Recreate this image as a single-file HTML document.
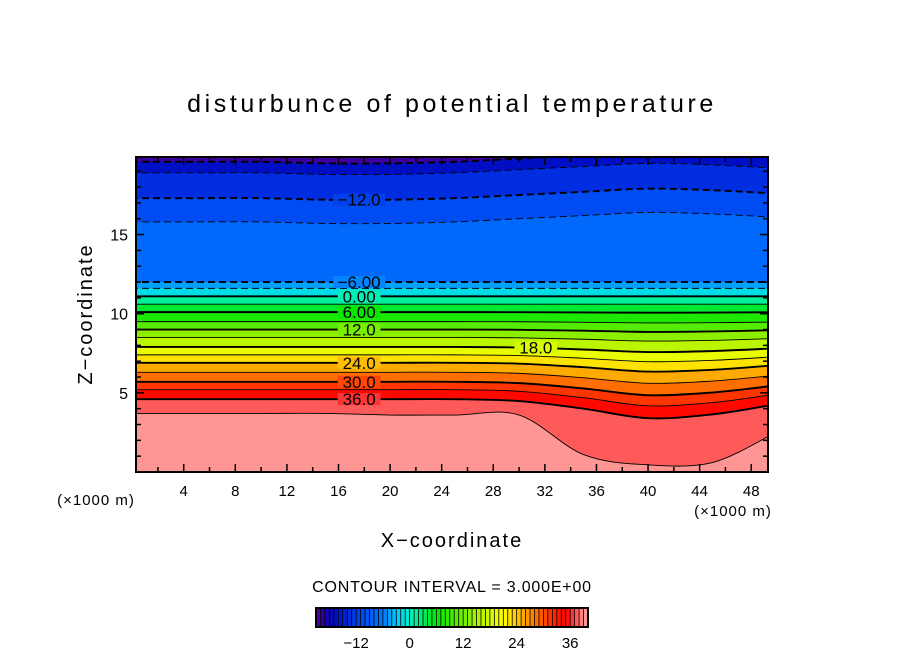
<!DOCTYPE html>
<html><head><meta charset="utf-8"><style>
html,body{margin:0;padding:0;background:#fff;}
svg text{font-family:"Liberation Sans",sans-serif;}
</style></head><body>
<svg id="chart" width="904" height="654" xmlns="http://www.w3.org/2000/svg">
<rect width="904" height="654" fill="#fff"/>
<text x="452" y="112" text-anchor="middle" font-size="25" letter-spacing="3.6">disturbunce of potential temperature</text>
<g id="plot"></g>
<text transform="translate(92,314) rotate(-90)" text-anchor="middle" font-size="20" letter-spacing="2">Z−coordinate</text>
<text x="452" y="547" text-anchor="middle" font-size="20" letter-spacing="2">X−coordinate</text>
<text x="96" y="505" text-anchor="middle" font-size="15" letter-spacing="1">(×1000 m)</text>
<text x="733" y="516" text-anchor="middle" font-size="15" letter-spacing="1">(×1000 m)</text>
<text x="452" y="592" text-anchor="middle" font-size="16" letter-spacing="0.8">CONTOUR INTERVAL = 3.000E+00</text>
<g id="cbar"></g>
</svg>
<script>
// ---- data ----
const xs = [0,5,10,15,20,25,30,35,40,45,49];
const levels = [-18,-15,-12,-9,-6,-3,0,3,6,9,12,15,18,21,24,27,30,33,36];
const baseZ = [19.6,18.9,17.3,15.8,12.0,11.6,11.1,10.6,10.1,9.5,9.0,8.5,7.9,7.4,6.9,6.3,5.7,5.2,4.6];
const lowDip = [0,0,0,0,0,0,0.1,0.5,1.0,0.8,0.3];
const upRise = [0,0,0,-0.1,-0.1,0,0.2,0.4,0.6,0.5,0.3];
const level39Z = [3.7,3.7,3.7,3.7,3.6,3.6,3.6,1.1,0.45,0.6,2.4];
const labelLevels = [-12,-6,0,6,12,24,30,36];
const labelTexts = ["−12.0","−6.00","0.00","6.00","12.0","24.0","30.0","36.0"];
const xTicks = [4,8,12,16,20,24,28,32,36,40,44,48];
const yTicks = [5,10,15];
const cbarTicks = [-12,0,12,24,36];
// ---- axes ----
const X0=136,X1=768,Y0=157,Y1=472;
const xMin=0.3,xMax=49.3,zMin=0,zMax=19.9;
const sx=v=>X0+(v-xMin)/(xMax-xMin)*(X1-X0);
const sy=v=>Y1-(v-zMin)/(zMax-zMin)*(Y1-Y0);
const stops=[[-21,[90,0,160]],[-19,[30,0,160]],[-17,[0,10,190]],[-14,[0,40,220]],[-10,[0,80,245]],[-6,[0,120,255]],[-3,[0,200,255]],[0,[0,240,200]],[6,[0,230,0]],[14,[150,240,0]],[21,[255,255,0]],[26,[255,160,0]],[31,[255,60,0]],[35,[255,0,0]],[37.5,[255,90,90]],[39,[255,150,150]],[40,[255,150,150]]];
function col(v){for(let i=1;i<stops.length;i++){if(v<=stops[i][0]){const a=stops[i-1],b=stops[i];const t=(v-a[0])/(b[0]-a[0]);return 'rgb('+a[1].map((c,k)=>Math.round(c+(b[1][k]-c)*t)).join(',')+')';}}return 'rgb(255,150,150)';}
const NS='http://www.w3.org/2000/svg';
function mk(tag,attrs,parent){const e=document.createElementNS(NS,tag);for(const k in attrs)e.setAttribute(k,attrs[k]);parent.appendChild(e);return e;}
const plot=document.getElementById('plot');
function zAt(li,i){const L=levels[li];const w=Math.pow(Math.min(1,Math.max(0,(L-3)/33)),2);const wu=L<=-9?1:0;return baseZ[li]-lowDip[i]*(0.3*Math.min(1,Math.max(0,(L-3)/33))+0.9*w)+upRise[i]*wu;}
function curve(li){return xs.map((x,i)=>[sx(x),sy(li<levels.length?zAt(li,i):level39Z[i])]);}
const allLevels=levels.concat([39]);
function smooth(p){let d='M'+p[0][0]+','+p[0][1];for(let i=0;i<p.length-1;i++){const a=p[Math.max(0,i-1)],b=p[i],c=p[i+1],e=p[Math.min(p.length-1,i+2)];d+=' C'+(b[0]+(c[0]-a[0])/6)+','+(b[1]+(c[1]-a[1])/6)+' '+(c[0]-(e[0]-b[0])/6)+','+(c[1]-(e[1]-b[1])/6)+' '+c[0]+','+c[1];}return d;}
const clip=mk('clipPath',{id:'pc'},plot);mk('rect',{x:X0,y:Y0,width:X1-X0,height:Y1-Y0},clip);
const g=mk('g',{'clip-path':'url(#pc)'},plot);
const bg=mk('rect',{x:X0,y:Y0,width:X1-X0,height:Y1-Y0,fill:col(-20)},g);


allLevels.forEach((L,li)=>{
  const p=curve(li);p[0][0]=X0-5;p[p.length-1][0]=X1+5;
  const b=mk('path',{d:smooth(p)+' L'+(X1+5)+','+(Y1+5)+' L'+(X0-5)+','+(Y1+5)+' Z',fill:col(L+1.5)},g);
  
  
});
allLevels.forEach((L,li)=>{
  const p=curve(li);p[0][0]=X0-5;p[p.length-1][0]=X1+5;
  const thick=(L%6===0);
  const attrs={d:smooth(p),fill:'none',stroke:'#000','stroke-width':thick?1.9:0.9};
  if(L<0)attrs['stroke-dasharray']='7,4';
  const l=mk('path',attrs,g);
  
  
});
function addLabel(L,txt,xv,idx){
  const li=levels.indexOf(L);const y=sy(zAt(li,idx));
  const w=txt.length*9.2+6;
  mk('rect',{x:sx(xv)-w/2,y:y-6,width:w,height:12,fill:col(L+0.5)},plot);
  const t=mk('text',{x:sx(xv),y:y+6,'text-anchor':'middle','font-size':17},plot);
  t.textContent=txt;
  
  
}
labelLevels.forEach((L,k)=>addLabel(L,labelTexts[k],17.6,4));
addLabel(18,'18.0',31.3,6);
mk('rect',{x:X0,y:Y0,width:X1-X0,height:Y1-Y0,fill:'none',stroke:'#000','stroke-width':2},plot);
for(let v=2;v<=48;v+=2){const len=v%4===0?8:5;const x=sx(v);
  mk('line',{x1:x,x2:x,y1:Y1,y2:Y1-len,stroke:'#000','stroke-width':1.5},plot);
  mk('line',{x1:x,x2:x,y1:Y0,y2:Y0+len,stroke:'#000','stroke-width':1.5},plot);}
for(let v=1;v<=19;v++){const len=v%5===0?8:5;const y=sy(v);
  mk('line',{x1:X0,x2:X0+len,y1:y,y2:y,stroke:'#000','stroke-width':1.5},plot);
  mk('line',{x1:X1,x2:X1-len,y1:y,y2:y,stroke:'#000','stroke-width':1.5},plot);}
xTicks.forEach(v=>{const t=mk('text',{x:sx(v),y:496,'text-anchor':'middle','font-size':15},plot);t.textContent=v;

});
yTicks.forEach(v=>{const t=mk('text',{x:128,y:sy(v)+6,'text-anchor':'end','font-size':16},plot);t.textContent=v;

});
// colorbar
const cb=document.getElementById('cbar');
const C0=316,C1=588,cMin=-21,cMax=40;
const cx=v=>C0+(v-cMin)/(cMax-cMin)*(C1-C0);
for(let v=cMin;v<cMax;v++){const r=mk('rect',{x:cx(v),y:608,width:cx(v+1)-cx(v)+0.3,height:19,fill:col(v+0.5)},cb);


mk('line',{x1:cx(v),x2:cx(v),y1:608,y2:627,stroke:'#000','stroke-width':0.8},cb);}
mk('rect',{x:C0,y:608,width:C1-C0,height:19,fill:'none',stroke:'#000','stroke-width':2},cb);
cbarTicks.forEach(v=>{const t=mk('text',{x:cx(v),y:648,'text-anchor':'middle','font-size':15},cb);t.textContent=v<0?'−'+(-v):v;

});
</script>
</body></html>
